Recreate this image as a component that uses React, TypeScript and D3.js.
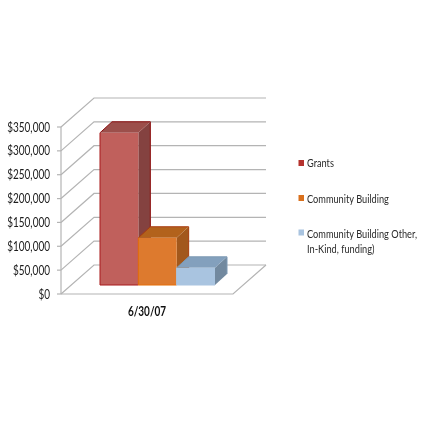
import React from "react";
import * as d3 from "d3";

const categoryLabel = "6/30/07";
const seriesNames = ["Grants", "Community Building", "Community Building Other,|In-Kind, funding)"];
const seriesValues = [319000, 99000, 36000];
const tickValues = [0, 50000, 100000, 150000, 200000, 250000, 300000, 350000];
const frontColors = ["#c0605c", "#dd7a2e", "#a9c4e0"];
const topColors = ["#9c4f4c", "#b2621f", "#83a0bd"];
const sideColors = ["#84423f", "#a2591d", "#72899f"];
const edgeColors = ["#a81c1c", "#e46c0a", "#a9c4e0"];
const backEdgeColors = ["#8c1010", "#a83c10", "#7d98b3"];
const legendColors = ["#b5302f", "#d9701f", "#a9c4e0"];

const W = 426;
// front-plane and back-wall value scales
const yFront = d3.scaleLinear().domain([0, 350000]).range([294, 127]);
const yBack = d3.scaleLinear().domain([0, 350000]).range([265, 98]);
const yBar = d3.scaleLinear().domain([0, 350000]).range([285, 118]);
const xBand = d3.scaleBand<number>().domain([0, 1, 2]).range([100, 215]).padding(0);
const fmt = (v: number) => "$" + d3.format(",")(v);
const font = "Lato, 'Open Sans', sans-serif";
const depthX = 12, depthY = 11;
const pts = (p: number[][]) => p.map((q) => q.join(",")).join(" ");

export default function App() {
  const grid = "#b4b4b4";
  return (
    <svg width={W} height={W} viewBox={`0 0 ${W} ${W}`} style={{ position: "absolute", left: 0, top: 0, background: "#fff" }}>
      <defs>
        <filter id="soft" x="-5%" y="-5%" width="110%" height="110%">
          <feGaussianBlur stdDeviation="0.4" />
        </filter>
      </defs>
      <g filter="url(#soft)">
        {tickValues.map((t) => (
          <g key={t}>
            <polyline fill="none" stroke={grid} strokeWidth={1.2}
              points={pts([[61, yFront(t)], [94, yBack(t)], [266, yBack(t)]])} />
            <line x1={57} x2={61} y1={yFront(t)} y2={yFront(t)} stroke={grid} strokeWidth={1.2} />
            <text transform={`translate(50,${yFront(t) + 4.5}) scale(0.8,1)`} textAnchor="end" fontFamily={font} fontSize={12.5} fill="#1a1a1a">{fmt(t)}</text>
          </g>
        ))}
        <line x1={61} x2={61} y1={yFront(350000)} y2={yFront(0)} stroke={grid} strokeWidth={1.2} />
        <polyline fill="none" stroke={grid} strokeWidth={1.2}
          points={pts([[61, yFront(0)], [233, yFront(0)], [266, yBack(0)]])} />
        {seriesValues.map((v, i) => {
          const x0 = xBand(i)!, x1 = x0 + xBand.bandwidth();
          const top = yBar(v), base = yBar(0);
          return (
            <g key={seriesNames[i]}>
              <polygon fill={sideColors[i]} points={pts([[x1, top], [x1 + depthX, top - depthY], [x1 + depthX, base - depthY], [x1, base]])} />
              <polygon fill={topColors[i]} points={pts([[x0, top], [x0 + depthX, top - depthY], [x1 + depthX, top - depthY], [x1, top]])} />
              <polyline fill="none" stroke={backEdgeColors[i]} strokeWidth={1}
                points={pts([[x0, top], [x0 + depthX, top - depthY], [x1 + depthX, top - depthY], [x1 + depthX, base - depthY]])} />
              <rect x={x0} y={top} width={x1 - x0} height={base - top} fill={frontColors[i]} />
              <polyline fill="none" stroke={edgeColors[i]} strokeWidth={1}
                points={pts([[x0, top], [x0, base], [x1, base]])} />
            </g>
          );
        })}
        <text transform="translate(147,316) scale(0.8,1)" textAnchor="middle" fontFamily={font} fontWeight={700} fontSize={12.5} fill="#111">{categoryLabel}</text>
        {seriesNames.map((n, i) => {
          const ly = [163, 198, 232.5][i];
          const tb = [167, 202.5, 238][i];
          return (
            <g key={n}>
              <rect x={298.5} y={ly - 3} width={5.5} height={6} fill={legendColors[i]} />
              {n.split("|").map((line, k) => (
                <text key={k} transform={`translate(307,${tb + k * 14.5}) scale(0.88,1)`} fontFamily={font} fontSize={10.5} fill="#2a2a2a">{line}</text>
              ))}
            </g>
          );
        })}
      </g>
    </svg>
  );
}
